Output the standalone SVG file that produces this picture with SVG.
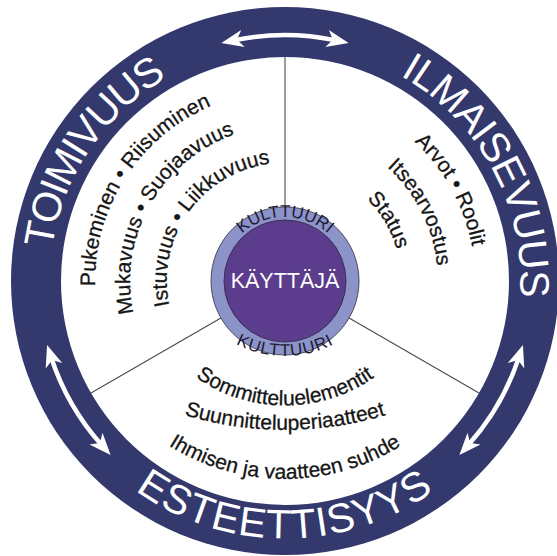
<svg xmlns="http://www.w3.org/2000/svg" xmlns:xlink="http://www.w3.org/1999/xlink" width="557" height="556" viewBox="0 0 557 556">
<style>
  text { font-family: "Liberation Sans", Arial, sans-serif; }
  .ring { font-size: 41px; fill: #ffffff; }
  .inner { font-size: 21px; fill: #151515; stroke: #151515; stroke-width: 0.3; }
  .kult { font-size: 17px; fill: #1e1a33; }
  .shaft { fill: none; stroke: #ffffff; stroke-width: 4.5; marker-start: url(#ah); marker-end: url(#ah); }
  .divider { stroke: #4a4a4a; stroke-width: 1.1; fill: none; }
</style>
<defs>
  <marker id="ah" markerUnits="userSpaceOnUse" markerWidth="24" markerHeight="20" refX="-14" refY="0" orient="auto-start-reverse" overflow="visible">
    <path d="M0,0 L-22,-8.7 L-16,0 L-22,8.7 Z" fill="#ffffff"/>
  </marker>
  <path id="pToim" d="M137.9,464.6 A235.3,235.3 0 0 1 398.0,74.6"/>
  <path id="pIlm" d="M191.2,65.2 A235.3,235.3 0 0 1 414.9,477.2"/>
  <path id="pEst" d="M28.3,303.5 A257.7,257.7 0 0 0 541.7,303.5"/>
  <path id="pL1" d="M168.55,431.1 A190,190 0 0 1 373.6,112.9"/>
  <path id="pL2" d="M197.2,408.7 A155,155 0 0 1 349.3,139.95"/>
  <path id="pL3" d="M208.5,370.9 A118,118 0 0 1 344.7,179.2"/>
  <path id="pR1" d="M208.3,107.15 A190,190 0 0 1 390.7,438.9"/>
  <path id="pR2" d="M227.9,139.05 A153,153 0 0 1 365.8,410.9"/>
  <path id="pR3" d="M235.25,176.2 A116,116 0 0 1 352.2,375.55"/>
  <path id="pB1" d="M129.5,250 A155.5,155.5 0 0 0 440.5,250"/>
  <path id="pB2" d="M-65,80 A350,350 0 0 0 635,80"/>
  <path id="pB3" d="M66,260 A219,219 0 0 0 504,260"/>
  <path id="pK1" d="M221,281 A64,64 0 0 1 349,281"/>
  <path id="pK2" d="M179,250 A106,106 0 0 0 391,250"/>
</defs>

<g id="outer-ring">
  <circle cx="285" cy="281" r="274" fill="#34396d"/>
  <circle cx="285" cy="281" r="224" fill="#ffffff"/>
</g>

<g id="connectors">
  <line class="divider" x1="285" y1="207" x2="285" y2="57"/>
  <line class="divider" x1="220.9" y1="318" x2="91" y2="393"/>
  <line class="divider" x1="349.1" y1="318" x2="479" y2="393"/>
  <path class="shaft" d="M235.1,40.1 A246,246 0 0 1 334.9,40.1"/>
  <path class="shaft" d="M51.45,358.2 A246,246 0 0 0 101.3,444.6"/>
  <path class="shaft" d="M518.55,358.2 A246,246 0 0 1 468.7,444.6"/>
</g>

<g id="toimivuus">
  <text class="ring" letter-spacing="-1.7"><textPath xlink:href="#pToim" href="#pToim" startOffset="50%" text-anchor="middle">TOIMIVUUS</textPath></text>
  <text class="inner"><textPath xlink:href="#pL1" href="#pL1" startOffset="50%" text-anchor="middle">Pukeminen • Riisuminen</textPath></text>
  <text class="inner"><textPath xlink:href="#pL2" href="#pL2" startOffset="50%" text-anchor="middle">Mukavuus • Suojaavuus</textPath></text>
  <text class="inner"><textPath xlink:href="#pL3" href="#pL3" startOffset="50%" text-anchor="middle">Istuvuus • Liikkuvuus</textPath></text>
</g>

<g id="ilmaisevuus">
  <text class="ring" letter-spacing="-1"><textPath xlink:href="#pIlm" href="#pIlm" startOffset="50%" text-anchor="middle">ILMAISEVUUS</textPath></text>
  <text class="inner"><textPath xlink:href="#pR1" href="#pR1" startOffset="50%" text-anchor="middle">Arvot • Roolit</textPath></text>
  <text class="inner"><textPath xlink:href="#pR2" href="#pR2" startOffset="50%" text-anchor="middle">Itsearvostus</textPath></text>
  <text class="inner"><textPath xlink:href="#pR3" href="#pR3" startOffset="50%" text-anchor="middle">Status</textPath></text>
</g>

<g id="esteettisyys">
  <text class="ring" letter-spacing="1.2"><textPath xlink:href="#pEst" href="#pEst" startOffset="50%" text-anchor="middle">ESTEETTISYYS</textPath></text>
  <text class="inner"><textPath xlink:href="#pB1" href="#pB1" startOffset="50%" text-anchor="middle">Sommitteluelementit</textPath></text>
  <text class="inner"><textPath xlink:href="#pB2" href="#pB2" startOffset="50%" text-anchor="middle">Suunnitteluperiaatteet</textPath></text>
  <text class="inner"><textPath xlink:href="#pB3" href="#pB3" startOffset="50%" text-anchor="middle">Ihmisen ja vaatteen suhde</textPath></text>
</g>

<g id="kulttuuri">
  <circle cx="285" cy="281" r="74" fill="#8b93c9" stroke="#4a4a5a" stroke-width="1"/>
  <text class="kult"><textPath xlink:href="#pK1" href="#pK1" startOffset="50%" text-anchor="middle">KULTTUURI</textPath></text>
  <text class="kult" letter-spacing="0.9"><textPath xlink:href="#pK2" href="#pK2" startOffset="50%" text-anchor="middle">KULTTUURI</textPath></text>
</g>

<g id="kayttaja">
  <circle cx="285" cy="281" r="61" fill="#5c3c8d" stroke="#3a3050" stroke-width="1"/>
  <text x="285" y="287.5" text-anchor="middle" font-size="21.5" fill="#ffffff">KÄYTTÄJÄ</text>
</g>
</svg>
